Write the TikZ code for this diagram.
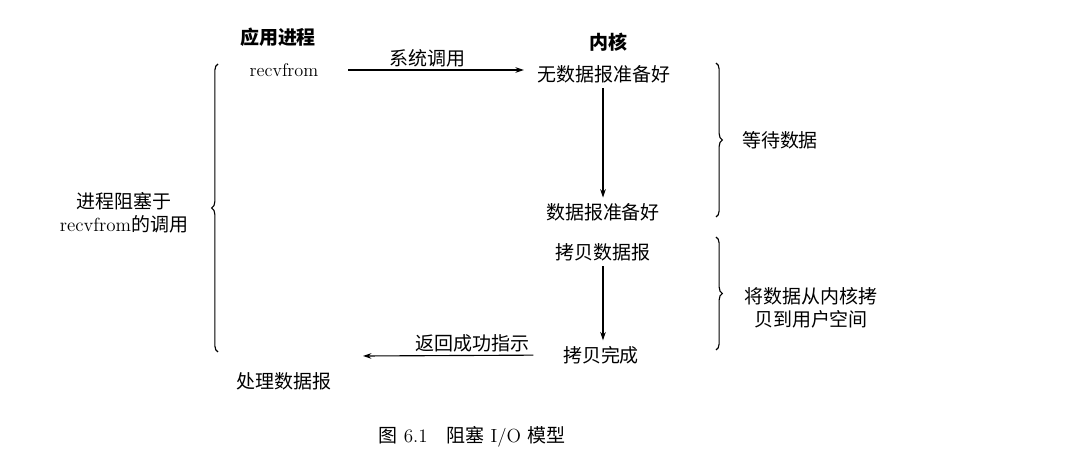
\documentclass[tikz,border=0pt]{standalone}
\usepackage{fontspec}
\newfontfamily\cjk{Noto Sans CJK SC}
\usepackage{tikz}
\usetikzlibrary{positioning, arrows.meta, decorations.pathreplacing}

\begin{document}
\begin{tikzpicture}[
  x=0.025cm, y=-0.025cm,
  % Styles
  txt/.style={
    font=\fontsize{13.5}{14.5}\selectfont\cjk,
    inner sep=1pt, align=center
  },
  head/.style={
    font=\fontsize{13.5}{14.5}\selectfont\cjk\bfseries,
    inner sep=1pt
  },
  callarrow/.style={
    -{Stealth[length=6pt, width=4pt]}, line width=0.8pt
  },
  bracket/.style={
    decorate, decoration={brace, amplitude=4.5pt}, line width=0.8pt
  },
  arrowlabel/.style={
    font=\fontsize{13.5}{14.5}\selectfont\cjk, inner sep=2pt
  },
]
\useasboundingbox (0,0) rectangle (1080,464);

% === USER PROCESS SIDE ===
\node[head] (app) at (278,37) {应用进程};
\node[font=\fontsize{13}{15}\selectfont, inner sep=1pt] (recv) at (284,70) {recvfrom};
\node[txt] (handle) at (284,381) {处理数据报};

% === KERNEL SIDE ===
\node[head] (kernel) at (608,42) {内核};
\node[txt] (nodata) at (604,74) {无数据报准备好};
\node[txt] (ready) at (603,212) {数据报准备好};
\node[txt] (copy) at (603,252) {拷贝数据报};
\node[txt] (done) at (601,355) {拷贝完成};

% === Calls between the two sides ===
\draw[callarrow, shorten <=0.7cm, shorten >=0.3cm]
  (recv.east) -- node[arrowlabel, above] {系统调用} (recv.east -| nodata.west);
\coordinate (ret) at (363,356);
\draw[callarrow, shorten <=0.7cm]
  (done.west) -- node[arrowlabel, above, pos=0.45] {返回成功指示} (ret);

% === Kernel flow ===
\draw[callarrow, shorten <=0.1cm, shorten >=0.1cm] (nodata.south -| ready.north) -- (ready.north);
\draw[callarrow, shorten <=0.1cm, shorten >=0.1cm] (copy.south) -- (copy.south |- done.north);

% === Braces ===
\coordinate (lbtop) at (218,64);
\coordinate (lbbot) at (218,352);
\draw[bracket] (lbbot) -- (lbtop);
\node[txt] (blocked) at (124,213) {进程阻塞于\\[2pt]{\rmfamily recvfrom}的调用};

\coordinate (wtop) at (716,63);
\coordinate (wbot) at (716,217);
\draw[bracket] (wtop) -- (wbot);
\node[txt] (wait) at (780,140) {等待数据};

\coordinate (ctop) at (716,237);
\coordinate (cbot) at (716,350);
\draw[bracket] (ctop) -- (cbot);
\node[txt] (copyout) at (811,308) {将数据从内核拷\\[2pt]贝到用户空间};

% === Caption ===
\node[font=\fontsize{13.5}{15}\selectfont, inner sep=1pt] (caption) at (472,437)
  {{\cjk 图} 6.1\quad{\cjk 阻塞} I/O {\cjk 模型}};

\end{tikzpicture}
\end{document}
